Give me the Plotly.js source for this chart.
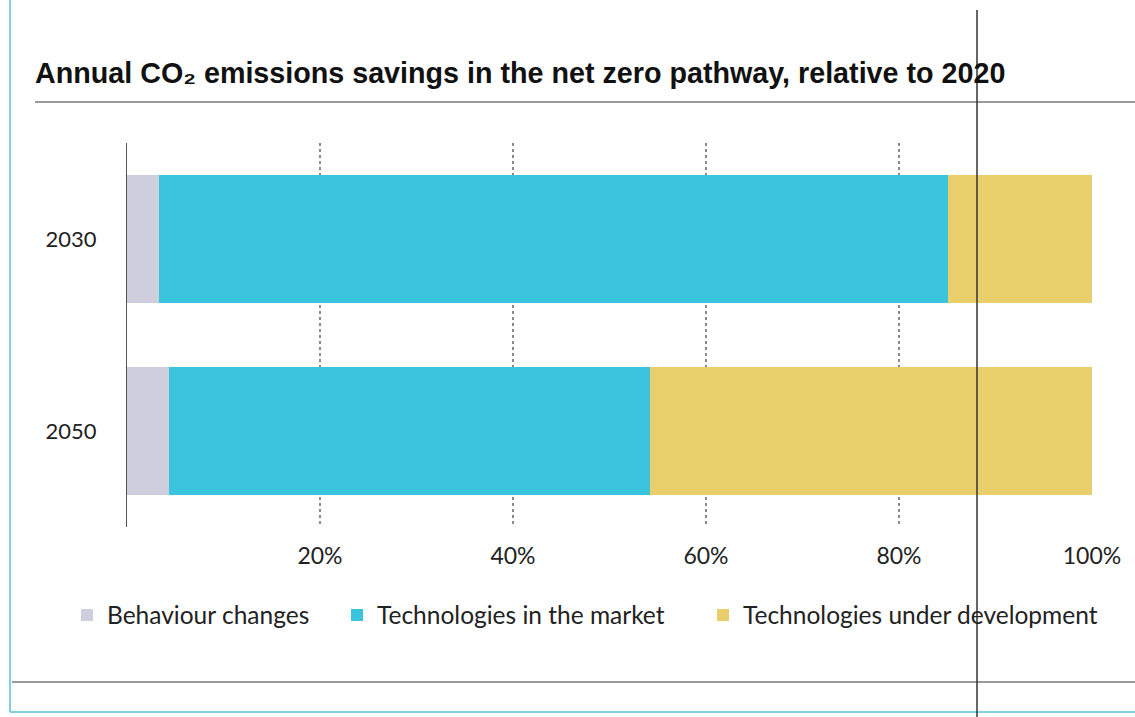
<!DOCTYPE html>
<html>
<head>
<meta charset="utf-8">
<script src="https://cdn.plot.ly/plotly-3.0.1.min.js"></script>
<style>html,body{margin:0;padding:0;background:#fff;}#chart{width:1135px;height:717px;}</style>
</head>
<body>
<div id="chart"></div>
<script>
const years = ['2030', '2050'];
const seriesNames = ['Behaviour changes', 'Technologies in the market', 'Technologies under development'];
const behaviour = [3.3, 4.3];
const market = [81.8, 49.9];
const development = [14.9, 45.8];
const tickVals = [20, 40, 60, 80, 100];
const tickText = ['20%', '40%', '60%', '80%', '100%'];
const colors = ['#cdcfdf', '#3ac4de', '#e9cf6b'];

const W = 1135, H = 717;
const L = 127, R = 43, T = 143, B = 190;
const pw = W - L - R, ph = H - T - B;
const px = x => (x - L) / pw;
const py = y => (H - B - y) / ph;

const font = 'Lato, "Open Sans", sans-serif';
const legendIds = ['legend', 'legend2', 'legend3'];
const legendX = [67, 337, 703];

const traces = [behaviour, market, development].map((vals, i) => ({
  type: 'bar', orientation: 'h', x: vals, y: years, name: seriesNames[i], legend: legendIds[i],
  marker: {color: colors[i], line: {width: 0}}, hovertemplate: seriesNames[i] + ': %{x}%<extra></extra>'
}));

const shapes = [
  {type: 'line', xref: 'paper', yref: 'paper', x0: px(35), x1: px(1135), y0: py(102), y1: py(102), line: {color: '#9a9a9a', width: 2}},
  {type: 'line', xref: 'paper', yref: 'paper', x0: px(12), x1: px(1135), y0: py(682), y1: py(682), line: {color: '#9a9a9a', width: 2}},
  {type: 'line', xref: 'paper', yref: 'paper', x0: px(10), x1: px(10), y0: py(0), y1: py(712), line: {color: '#7fd3df', width: 2}},
  {type: 'line', xref: 'paper', yref: 'paper', x0: px(10), x1: px(1135), y0: py(712), y1: py(712), line: {color: '#7fd3df', width: 2}},
  {type: 'line', xref: 'paper', yref: 'paper', x0: px(977), x1: px(977), y0: py(10), y1: py(717), line: {color: '#333', width: 1.5}}
];

const layout = {
  width: W, height: H,
  margin: {l: L, r: R, t: T, b: B, pad: 0},
  paper_bgcolor: '#fff', plot_bgcolor: '#fff',
  barmode: 'stack', bargap: 0.333,
  title: {text: 'Annual CO₂ emissions savings in the net zero pathway, relative to 2020',
          font: {family: '"Liberation Sans", Arial, sans-serif', size: 28.7, color: '#111', weight: 'bold'},
          xref: 'container', yref: 'container', x: 35 / W, xanchor: 'left', y: 1 - 73 / H, yanchor: 'middle'},
  xaxis: {range: [0, 100], tickvals: tickVals, ticktext: tickText, showgrid: true, gridcolor: '#8a8a8a',
          griddash: 'dot', gridwidth: 1.5, zeroline: false, showline: false, ticks: '',
          ticklabelstandoff: 13, tickfont: {family: font, size: 23, color: '#222'}, fixedrange: true},
  yaxis: {type: 'category', categoryorder: 'array', categoryarray: years, autorange: 'reversed',
          showline: true, linecolor: '#555', linewidth: 1.2, showgrid: false, zeroline: false, ticks: '',
          ticklabelstandoff: 25, tickfont: {family: font, size: 22, color: '#222'}, fixedrange: true},
  shapes: shapes,
  showlegend: true
};
legendIds.forEach((id, i) => {
  layout[id] = {orientation: 'h', x: legendX[i] / W, xref: 'container', xanchor: 'left',
                y: 1 - 615 / H, yref: 'container', yanchor: 'middle',
                font: {family: font, size: 24.5, color: '#222'}, bgcolor: 'rgba(0,0,0,0)'};
});

Plotly.newPlot('chart', traces, layout, {displayModeBar: false});
</script>
</body>
</html>
